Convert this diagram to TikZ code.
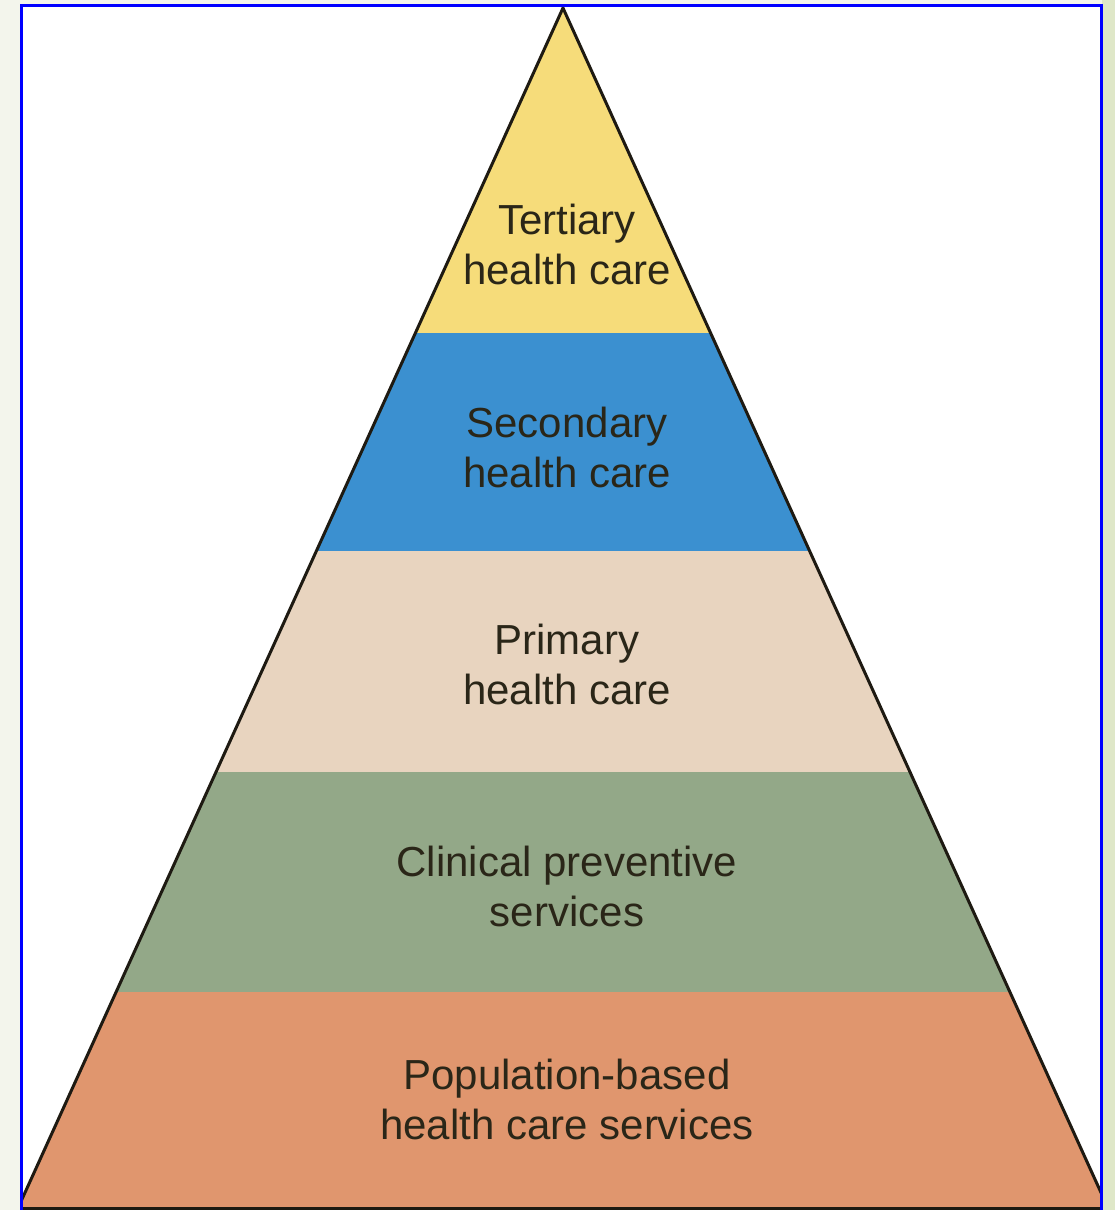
\documentclass[tikz,border=0pt]{standalone}
\usepackage{fontspec}
\setmainfont{Liberation Sans}
\definecolor{bgL}{HTML}{F3F5EC}
\definecolor{bgR}{HTML}{DFE7C8}
\definecolor{frameblue}{HTML}{0000FF}
\definecolor{cYellow}{HTML}{F6DC7A}
\definecolor{cBlue}{HTML}{3B90D0}
\definecolor{cBeige}{HTML}{E8D4BF}
\definecolor{cGreen}{HTML}{93A888}
\definecolor{cOrange}{HTML}{E0966E}
\definecolor{txt}{HTML}{2A2618}
\definecolor{edge}{HTML}{1E1A12}
\tikzset{
  lbl/.style={align=center, text=txt, inner sep=0pt,
    font=\fontsize{42}{50}\selectfont},
}
\begin{document}
\begin{tikzpicture}[x=1pt,y=-1pt]
\useasboundingbox (0,0) rectangle (1115,1210);
% background
\fill[bgL] (0,0) rectangle (1115,1210);
\fill[bgR] (1102,0) rectangle (1115,1210);
% white panel
\fill[white] (21,5) rectangle (1102,1210);
% pyramid bands clipped to triangle and panel
\begin{scope}
  \clip (21,5) rectangle (1102,1210);
  \clip (563,8) -- (563-545,1208) -- (563+545,1208) -- cycle;
  \fill[cYellow] (0,0) rectangle (1115,333);
  \fill[cBlue]   (0,333) rectangle (1115,551);
  \fill[cBeige]  (0,551) rectangle (1115,772);
  \fill[cGreen]  (0,772) rectangle (1115,992);
  \fill[cOrange] (0,992) rectangle (1115,1210);
\end{scope}
\begin{scope}
  \clip (21,5) rectangle (1102,1210);
  \draw[edge, line width=3pt, line join=miter] (563-545,1208) -- (563,8) -- (563+545,1208);
  \draw[edge, line width=3pt] (0,1208) -- (1115,1208);
\end{scope}
% blue frame
\draw[frameblue, line width=3pt] (21.5,1212) -- (21.5,5.5) -- (1101.5,5.5) -- (1101.5,1212);
% labels
\node[lbl] (tert) at (567,244) {Tertiary\\health care};
\node[lbl] (sec)  at (567,447) {Secondary\\health care};
\node[lbl] (prim) at (567,664) {Primary\\health care};
\node[lbl] (clin) at (567,886) {Clinical preventive\\services};
\node[lbl] (pop)  at (567,1099) {Population-based\\health care services};
\end{tikzpicture}
\end{document}
